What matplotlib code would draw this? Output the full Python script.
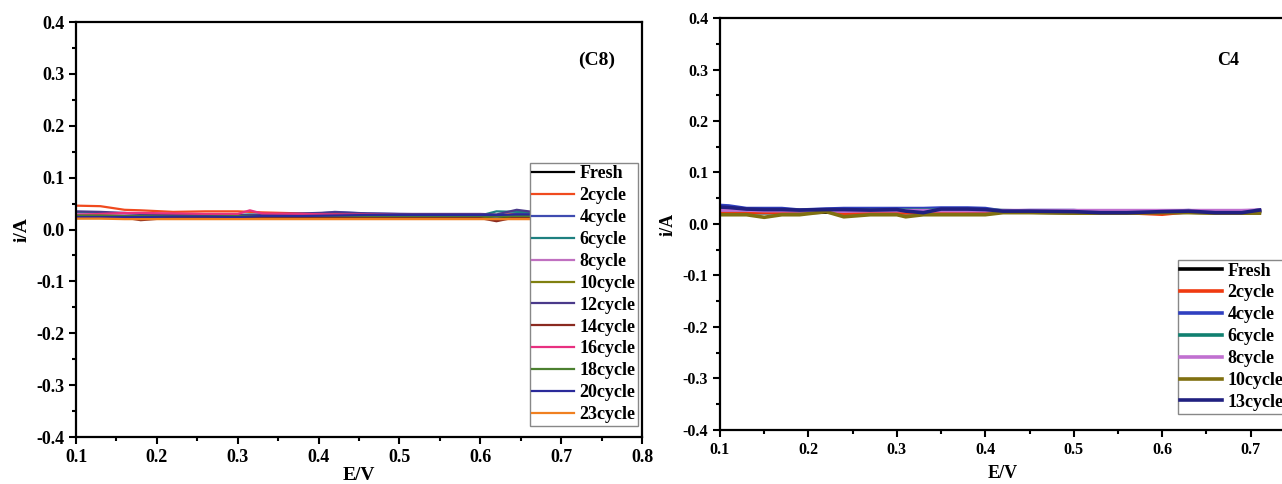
import numpy as np
import matplotlib
matplotlib.use("Agg")
import matplotlib.pyplot as plt
from matplotlib.ticker import MultipleLocator

plt.rcParams['font.family'] = ['Liberation Serif', 'DejaVu Serif']
plt.rcParams['font.weight'] = 'bold'

# ---- C8 panel data ----
e_c8 = [0.10, 0.13, 0.16, 0.18, 0.22, 0.26, 0.30, 0.315, 0.33, 0.38, 0.42,
        0.46, 0.50, 0.55, 0.60, 0.62, 0.645, 0.67, 0.70]
labels_c8 = ['Fresh', '2cycle', '4cycle', '6cycle', '8cycle', '10cycle',
             '12cycle', '14cycle', '16cycle', '18cycle', '20cycle', '23cycle']
c8_fresh = [0.025, 0.025, 0.024, 0.023, 0.024, 0.024, 0.023, 0.024, 0.024, 0.023, 0.024,
            0.024, 0.023, 0.023, 0.024, 0.022, 0.025, 0.024, 0.024]
c8_2 = [0.046, 0.045, 0.038, 0.037, 0.034, 0.035, 0.035, 0.034, 0.033, 0.031, 0.030,
        0.029, 0.029, 0.029, 0.029, 0.028, 0.030, 0.029, 0.029]
c8_4 = [0.026, 0.025, 0.022, 0.024, 0.028, 0.026, 0.025, 0.027, 0.026, 0.028, 0.034,
        0.031, 0.030, 0.029, 0.028, 0.024, 0.030, 0.031, 0.031]
c8_6 = [0.032, 0.032, 0.031, 0.030, 0.029, 0.028, 0.028, 0.029, 0.028, 0.027, 0.027,
        0.027, 0.027, 0.026, 0.027, 0.035, 0.034, 0.033, 0.033]
c8_8 = [0.030, 0.030, 0.029, 0.028, 0.028, 0.027, 0.027, 0.027, 0.026, 0.026, 0.026,
        0.026, 0.026, 0.026, 0.026, 0.026, 0.027, 0.027, 0.027]
c8_10 = [0.022, 0.022, 0.022, 0.022, 0.022, 0.022, 0.022, 0.022, 0.022, 0.022, 0.022,
         0.022, 0.022, 0.022, 0.022, 0.021, 0.022, 0.022, 0.022]
c8_12 = [0.035, 0.034, 0.032, 0.030, 0.029, 0.029, 0.028, 0.028, 0.029, 0.031, 0.033,
         0.031, 0.030, 0.030, 0.030, 0.029, 0.038, 0.033, 0.033]
c8_14 = [0.024, 0.024, 0.023, 0.018, 0.023, 0.023, 0.022, 0.023, 0.023, 0.022, 0.022,
         0.023, 0.022, 0.022, 0.022, 0.016, 0.024, 0.023, 0.023]
c8_16 = [0.028, 0.030, 0.032, 0.032, 0.031, 0.030, 0.030, 0.037, 0.031, 0.030, 0.029,
         0.029, 0.028, 0.028, 0.028, 0.027, 0.028, 0.028, 0.028]
c8_18 = [0.027, 0.027, 0.026, 0.026, 0.026, 0.026, 0.026, 0.026, 0.026, 0.026, 0.026,
         0.026, 0.026, 0.026, 0.026, 0.026, 0.026, 0.026, 0.026]
c8_20 = [0.024, 0.024, 0.024, 0.024, 0.025, 0.025, 0.024, 0.025, 0.026, 0.026, 0.027,
         0.028, 0.028, 0.028, 0.028, 0.028, 0.029, 0.029, 0.029]
c8_23 = [0.021, 0.021, 0.020, 0.020, 0.020, 0.020, 0.020, 0.020, 0.020, 0.020, 0.020,
         0.020, 0.020, 0.020, 0.020, 0.020, 0.020, 0.020, 0.020]
colors_c8 = ['#000000', '#F04A1E', '#3F4BB0', '#1E8080', '#C070C0', '#808010',
             '#4A3A8A', '#8A2A20', '#E83080', '#4C8030', '#2A2A9A', '#F08020']

# ---- C4 panel data ----
e_c4 = [0.10, 0.11, 0.13, 0.15, 0.17, 0.19, 0.22, 0.24, 0.27, 0.30, 0.31, 0.33,
        0.35, 0.38, 0.40, 0.42, 0.45, 0.50, 0.53, 0.56, 0.60, 0.63, 0.66, 0.69, 0.71]
labels_c4 = ['Fresh', '2cycle', '4cycle', '6cycle', '8cycle', '10cycle', '13cycle']
c4_fresh = [0.022, 0.022, 0.022, 0.022, 0.022, 0.022, 0.023, 0.022, 0.022, 0.022, 0.022, 0.022,
            0.023, 0.023, 0.023, 0.023, 0.023, 0.022, 0.022, 0.022, 0.022, 0.023, 0.022, 0.022, 0.024]
c4_2 = [0.025, 0.024, 0.023, 0.023, 0.023, 0.023, 0.025, 0.021, 0.022, 0.023, 0.022, 0.023,
        0.024, 0.025, 0.025, 0.025, 0.024, 0.023, 0.023, 0.022, 0.019, 0.024, 0.023, 0.024, 0.026]
c4_4 = [0.036, 0.035, 0.030, 0.030, 0.030, 0.027, 0.029, 0.030, 0.030, 0.030, 0.030, 0.030,
        0.031, 0.031, 0.030, 0.025, 0.026, 0.026, 0.023, 0.022, 0.024, 0.026, 0.022, 0.022, 0.027]
c4_6 = [0.028, 0.028, 0.027, 0.027, 0.027, 0.026, 0.027, 0.027, 0.027, 0.027, 0.027, 0.027,
        0.027, 0.027, 0.027, 0.026, 0.025, 0.025, 0.024, 0.024, 0.024, 0.025, 0.024, 0.025, 0.026]
c4_8 = [0.027, 0.027, 0.027, 0.026, 0.026, 0.026, 0.026, 0.025, 0.026, 0.026, 0.026, 0.026,
        0.026, 0.026, 0.026, 0.026, 0.026, 0.026, 0.026, 0.026, 0.026, 0.026, 0.026, 0.026, 0.027]
c4_10 = [0.018, 0.018, 0.018, 0.013, 0.018, 0.018, 0.024, 0.014, 0.018, 0.018, 0.014, 0.018,
         0.018, 0.018, 0.018, 0.022, 0.022, 0.021, 0.021, 0.021, 0.022, 0.022, 0.021, 0.021, 0.021]
c4_13 = [0.033, 0.032, 0.029, 0.028, 0.028, 0.027, 0.028, 0.028, 0.027, 0.028, 0.025, 0.022,
         0.029, 0.029, 0.028, 0.025, 0.025, 0.024, 0.022, 0.022, 0.024, 0.025, 0.022, 0.022, 0.027]
colors_c4 = ['#000000', '#F03A10', '#3040C0', '#108070', '#C070D0', '#807010', '#202080']

fig = plt.figure(figsize=(12.82, 4.84), dpi=100)
ax1 = fig.add_axes([0.0593, 0.0971, 0.4415, 0.8574])
ax2 = fig.add_axes([0.5616, 0.1116, 0.4415, 0.8512])

for ys, lab, col in zip([c8_fresh, c8_2, c8_4, c8_6, c8_8, c8_10, c8_12, c8_14,
                         c8_16, c8_18, c8_20, c8_23], labels_c8, colors_c8):
    ax1.plot(e_c8, ys, color=col, lw=1.6, label=lab)

for ys, lab, col in zip([c4_fresh, c4_2, c4_4, c4_6, c4_8, c4_10, c4_13],
                        labels_c4, colors_c4):
    ax2.plot(e_c4, ys, color=col, lw=2.6, label=lab)

for ax, fs in [(ax1, 13), (ax2, 11.5)]:
    ax.set_ylim(-0.4, 0.4)
    ax.yaxis.set_major_locator(MultipleLocator(0.1))
    ax.yaxis.set_minor_locator(MultipleLocator(0.05))
    ax.xaxis.set_major_locator(MultipleLocator(0.1))
    ax.xaxis.set_minor_locator(MultipleLocator(0.05))
    ax.tick_params(which='both', direction='out', top=False, right=False, width=1.5,
                   labelsize=fs)
    ax.tick_params(which='major', length=5)
    ax.tick_params(which='minor', length=3)
    for sp in ax.spines.values():
        sp.set_linewidth(1.6)
    ax.yaxis.set_major_formatter(plt.FuncFormatter(lambda v, p: '%.1f' % v))
    ax.xaxis.set_major_formatter(plt.FuncFormatter(lambda v, p: '%.1f' % v))

ax1.set_xlim(0.1, 0.8)
ax2.set_xlim(0.1, 0.74)
ax2.set_xticks([0.1, 0.2, 0.3, 0.4, 0.5, 0.6, 0.7])

ax1.set_xlabel('E/V', fontsize=14, fontweight='bold', labelpad=1)
ax1.set_ylabel('i/A', fontsize=14, fontweight='bold', labelpad=4)
ax2.set_xlabel('E/V', fontsize=13, fontweight='bold', labelpad=5)
ax2.set_ylabel('i/A', fontsize=13, fontweight='bold', labelpad=4)

ax1.text(0.92, 0.908, '(C8)', transform=ax1.transAxes, fontsize=14, fontweight='bold',
         ha='center', va='center')
ax2.text(0.898, 0.898, 'C4', transform=ax2.transAxes, fontsize=13, fontweight='bold',
         ha='center', va='center')

leg1 = ax1.legend(loc='lower right', bbox_to_anchor=(0.993, 0.027),
                  handlelength=2.3, handletextpad=0.3, labelspacing=0.27,
                  borderpad=0.15, borderaxespad=0, fancybox=False, framealpha=1,
                  edgecolor='#888888', prop={'weight': 'bold', 'size': 13})
leg1.get_frame().set_linewidth(1.0)
leg2 = ax2.legend(loc='lower right', bbox_to_anchor=(1.0, 0.04),
                  handlelength=2.3, handletextpad=0.3, labelspacing=0.27,
                  borderpad=0.15, borderaxespad=0, fancybox=False, framealpha=1,
                  edgecolor='#888888', prop={'weight': 'bold', 'size': 13})
leg2.get_frame().set_linewidth(1.0)

fig.savefig('out.png', dpi=100)
